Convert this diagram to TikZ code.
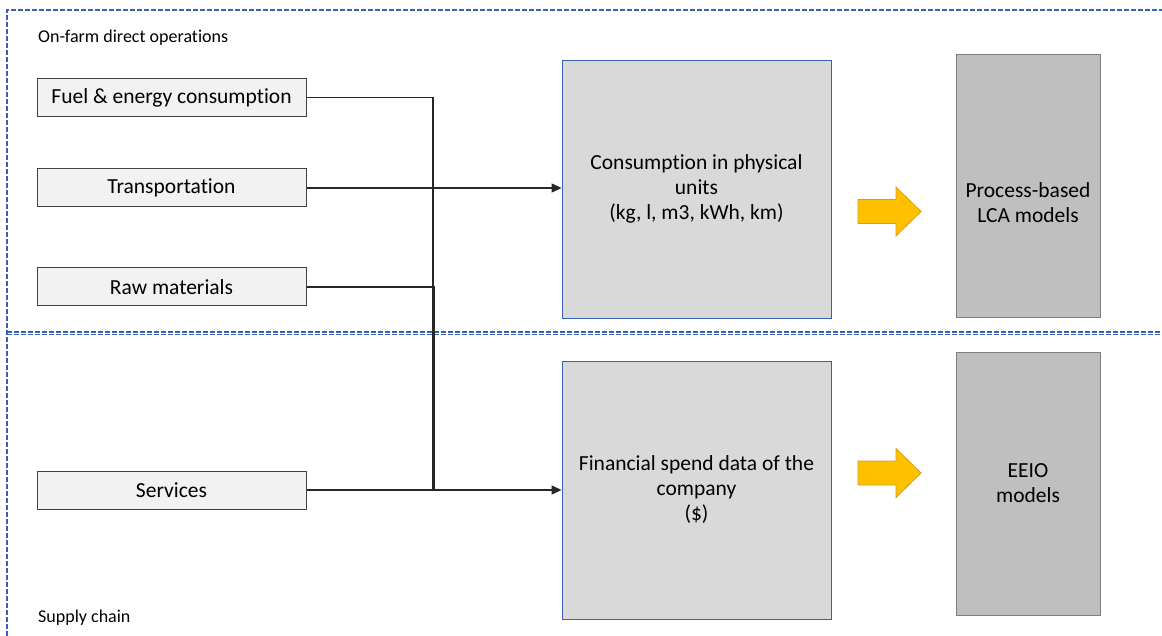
\documentclass[tikz,border=0pt]{standalone}
\usepackage{fontspec}
\setmainfont{Carlito}[RawFeature=-liga]
\usetikzlibrary{arrows.meta}
\definecolor{frameblue}{HTML}{3A62B0}
\definecolor{srcfill}{HTML}{F2F2F2}
\definecolor{midfill}{HTML}{D9D9D9}
\definecolor{modfill}{HTML}{BFBFBF}
\definecolor{modline}{HTML}{7F7F7F}
\definecolor{arrfill}{HTML}{FFC000}
\definecolor{arrline}{HTML}{D4A017}
\tikzset{
  srcbox/.style={draw=black!75, line width=1pt, fill=srcfill, minimum width=269pt, minimum height=38pt, inner sep=0pt, font=\fontsize{21.5}{24}\selectfont},
  midbox/.style={draw=frameblue, line width=0.8pt, fill=midfill, minimum width=269pt, minimum height=258pt, inner sep=0pt, align=center, font=\fontsize{21.5}{25}\selectfont},
  modbox/.style={draw=modline, line width=1pt, fill=modfill, minimum width=144pt, minimum height=263pt, inner sep=0pt},
  modtext/.style={align=center, inner sep=0pt, font=\fontsize{21.5}{25}\selectfont},
  framedash/.style={draw=frameblue, line width=1.1pt, dash pattern=on 5pt off 2pt},
  conn/.style={draw=black!85, line width=1.2pt},
  yarrow/.style={draw=arrline, line width=0.8pt, fill=arrfill, line join=miter},
  lbl/.style={anchor=west, inner sep=0pt, font=\fontsize{18}{20}\selectfont}
}
\begin{document}
\begin{tikzpicture}[x=1pt,y=-1pt]
\useasboundingbox (0,0) rectangle (1162,636);
\fill[white] (0,0) rectangle (1162,636);
% frames
\draw[framedash] (7,636) -- (7,10) -- (1162,10);
\draw[framedash] (7,332) -- (1162,332);
\draw[framedash] (7,334.5) -- (1162,334.5);
\node[lbl] (lblTop) at (38,38) {On-farm direct operations};
\node[lbl] (lblBot) at (38,618) {Supply chain};
% source boxes
\node[srcbox] (fuel) at (171.5,97.5) {Fuel \& energy consumption};
\node[srcbox] (trans) at (171.5,188) {Transportation};
\node[srcbox] (raw) at (171.5,287) {Raw materials};
\node[srcbox] (serv) at (171.5,490) {Services};
% middle boxes
\node[midbox] (cons) at (696.5,189) {Consumption in physical\\units\\(kg, l, m3, kWh, km)};
\node[midbox] (fin) at (696.5,490) {Financial spend data of the\\company\\(\$)};
% model boxes
\node[modbox] (lca) at (1028,186) {};
\node[modtext] (lcatxt) at (1028,203) {Process-based\\LCA models};
\node[modbox] (eeio) at (1028,484) {};
\node[modtext] (eeiotxt) at (1028,483) {EEIO\\models};
% yellow arrows
\draw[yarrow] (858,199.5) -- (896,199.5) -- (896,187) -- (921,211.5) -- (896,236) -- (896,223.5) -- (858,223.5) -- cycle;
\draw[yarrow] (858,461) -- (896,461) -- (896,448.5) -- (921,473) -- (896,497.5) -- (896,485) -- (858,485) -- cycle;
% connectors
\coordinate (j1) at (433,97.5);
\coordinate (j3) at (434.5,287);
\coordinate (j4) at (434.5,490);
\draw[conn] (fuel.east) -- (j1) -- (433,490);
\draw[conn] (raw.east) -- (j3) -- (j4);
\draw[conn,-{Triangle[length=10pt,width=9pt]}] (trans.east) -- (cons.west |- trans.east);
\draw[conn,-{Triangle[length=10pt,width=9pt]}] (serv.east) -- (fin.west |- serv.east);
\end{tikzpicture}
\end{document}
